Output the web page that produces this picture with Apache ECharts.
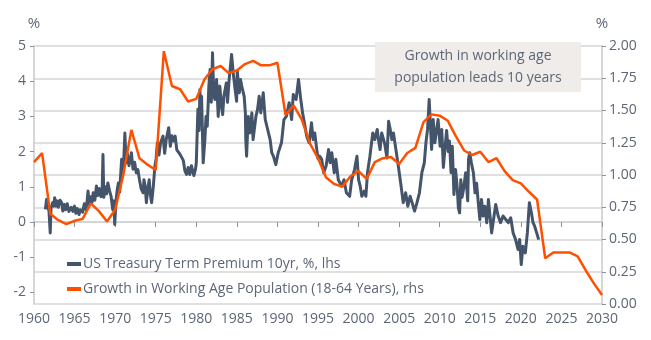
<!DOCTYPE html>
<html>
<head>
<meta charset="utf-8">
<script src="https://cdn.jsdelivr.net/npm/echarts@6/dist/echarts.min.js"></script>
<style>
html,body{margin:0;padding:0;background:#fff;}
#c{width:651px;height:340px;}
</style>
</head>
<body>
<div id="c"></div>
<script>
// Growth in working age population (annual, rhs, %), led 10 years
const popYears = [1960,1961,1962,1963,1964,1965,1966,1967,1968,1969,1970,1971,1972,1973,1974,1975,1976,1977,1978,1979,
  1980,1981,1982,1983,1984,1985,1986,1987,1988,1989,1990,1991,1992,1993,1994,1995,1996,1997,1998,1999,
  2000,2001,2002,2003,2004,2005,2006,2007,2008,2009,2010,2011,2012,2013,2014,2015,2016,2017,2018,2019,
  2020,2021,2022,2023,2024,2025,2026,2027,2028,2029,2030];
const popGrowth = [1.10,1.17,0.70,0.65,0.62,0.645,0.66,0.78,0.72,0.64,0.73,1.00,1.35,1.13,1.08,1.04,1.96,1.69,1.665,1.57,
  1.59,1.74,1.82,1.845,1.79,1.81,1.86,1.885,1.85,1.85,1.87,1.465,1.54,1.43,1.245,1.13,0.98,0.93,0.91,0.99,
  1.03,0.97,1.10,1.13,1.14,1.085,1.17,1.21,1.41,1.47,1.46,1.42,1.30,1.19,1.155,1.18,1.10,1.13,1.03,0.96,
  0.935,0.87,0.81,0.355,0.40,0.40,0.40,0.37,0.26,0.16,0.07];

// US Treasury term premium 10yr (lhs, %)
const tpDates = [1961.40,1961.55,1961.70,1961.85,1962.00,1962.10,1962.30,1962.45,1962.55,1962.70,1962.85,1963.00,1963.20,1963.40,1963.55,1963.75,1963.90,
  1964.10,1964.30,1964.45,1964.60,1964.80,1965.00,1965.15,1965.35,1965.55,1965.70,1965.85,1966.00,1966.20,1966.40,1966.55,1966.66,1966.80,
  1967.00,1967.15,1967.30,1967.50,1967.70,1967.85,1968.05,1968.25,1968.40,1968.50,1968.60,1968.80,1968.95,1969.10,1969.30,1969.50,1969.70,1969.85,1969.95,
  1970.10,1970.25,1970.40,1970.55,1970.80,1971.00,1971.20,1971.35,1971.50,1971.70,1971.85,1972.00,1972.20,1972.40,1972.60,1972.80,
  1973.00,1973.20,1973.45,1973.55,1973.70,1973.85,1974.00,1974.20,1974.35,1974.50,1974.70,1974.90,1975.05,1975.20,1975.40,1975.60,1975.90,
  1976.10,1976.30,1976.60,1976.80,1977.00,1977.20,1977.40,1977.60,1977.80,1978.00,1978.20,1978.40,1978.60,1978.80,1979.00,1979.20,1979.40,1979.55,1979.70,1979.90,
  1980.00,1980.20,1980.35,1980.44,1980.55,1980.65,1980.85,1981.06,1981.20,1981.35,1981.55,1981.70,1981.85,1982.00,1982.15,1982.30,1982.50,1982.70,1982.90,
  1983.10,1983.25,1983.40,1983.70,1983.85,1984.05,1984.35,1984.55,1984.76,1984.97,1985.05,1985.30,1985.45,1985.60,1985.90,
  1986.05,1986.10,1986.20,1986.40,1986.60,1986.85,1987.00,1987.35,1987.55,1987.75,1987.95,1988.25,1988.50,1988.70,1989.10,1989.30,1989.50,1989.80,
  1990.10,1990.50,1990.80,1991.10,1991.45,1991.75,1991.95,1992.30,1992.60,1992.85,1993.10,1993.40,1993.60,1993.90,1994.20,1994.40,1994.60,1994.80,
  1995.00,1995.20,1995.45,1995.70,1996.00,1996.30,1996.50,1996.70,1997.00,1997.20,1997.50,1997.90,1998.20,1998.50,1998.90,1999.15,1999.50,1999.80,
  2000.00,2000.20,2000.40,2000.70,2000.90,2001.10,2001.40,2001.75,2002.00,2002.30,2002.45,2002.65,2002.85,2003.20,2003.50,2003.70,2003.90,
  2004.10,2004.30,2004.60,2004.90,2005.24,2005.50,2005.80,2006.07,2006.35,2006.60,2006.90,2007.20,2007.50,2007.80,2008.10,2008.30,2008.50,2008.70,2008.80,
  2009.00,2009.20,2009.40,2009.80,2010.05,2010.25,2010.45,2010.65,2010.85,2011.05,2011.20,2011.40,2011.55,2011.75,2011.95,2012.15,2012.30,2012.45,2012.60,2012.75,2012.95,
  2013.20,2013.45,2013.55,2013.70,2013.90,2014.15,2014.35,2014.55,2014.75,2014.95,2015.15,2015.35,2015.55,2015.80,2016.00,2016.20,2016.40,2016.65,2016.90,
  2017.20,2017.50,2017.80,2018.15,2018.45,2018.75,2019.05,2019.35,2019.65,2019.85,2020.05,2020.25,2020.55,2020.80,2021.05,2021.30,2021.50,2021.70,2021.95,2022.20];
const tpValues = [0.36,0.64,0.45,0.30,-0.31,0.40,0.55,0.45,0.69,0.45,0.60,0.42,0.62,0.55,0.31,0.50,0.35,
  0.52,0.30,0.26,0.42,0.30,0.45,0.25,0.38,0.21,0.35,0.40,0.28,0.52,0.35,0.60,0.88,0.50,
  0.72,0.55,0.83,0.62,1.02,0.75,0.95,0.72,0.90,1.92,0.70,1.00,0.80,1.11,0.90,0.73,0.35,0.60,-0.07,
  0.60,0.90,1.11,0.85,1.78,1.40,2.53,1.68,1.95,1.60,1.75,1.97,1.50,1.70,1.40,1.49,
  1.20,0.95,0.83,1.20,1.02,0.55,0.90,1.20,0.75,0.55,1.00,1.59,1.80,2.25,1.90,2.25,2.44,
  1.95,2.35,2.68,2.15,2.45,2.30,2.44,2.05,2.10,1.92,1.95,1.75,1.45,1.35,1.55,1.35,1.60,1.45,1.32,1.50,
  1.68,3.20,2.60,3.76,2.90,3.57,1.68,2.34,3.00,2.72,3.86,4.33,3.40,4.81,3.60,3.48,4.05,3.00,3.86,
  3.29,3.05,3.57,3.95,3.40,4.05,4.76,4.24,3.81,3.43,4.29,3.67,4.05,3.86,3.57,
  3.10,2.34,1.87,3.00,2.53,3.10,2.34,3.00,3.20,3.57,3.10,3.67,2.91,2.72,2.34,1.97,1.87,1.63,
  1.97,2.25,2.91,3.00,3.39,2.91,3.62,3.48,4.05,3.53,3.10,2.72,2.44,2.25,2.82,2.34,2.53,2.15,
  1.80,1.87,1.78,1.40,1.59,2.06,1.68,1.97,1.40,1.78,1.20,1.02,1.20,0.83,0.73,1.20,1.49,1.87,
  1.20,1.02,0.73,0.88,0.73,1.40,1.87,2.53,2.34,2.63,2.34,2.06,2.53,2.25,1.82,2.86,2.63,
  2.34,2.53,2.06,1.59,1.02,0.55,0.83,0.45,0.73,0.55,0.31,0.55,0.83,1.40,1.68,2.25,2.63,3.48,3.53,
  2.06,2.91,2.25,2.91,2.15,2.63,1.55,2.10,2.60,2.00,2.30,1.40,2.15,0.78,1.49,1.00,0.40,0.26,1.20,0.70,0.95,
  1.40,0.60,1.78,1.97,1.68,1.40,0.83,1.10,0.55,0.07,0.64,0.17,0.45,-0.02,0.64,0.17,-0.31,0.10,0.50,
  0.17,-0.02,0.17,0.07,-0.02,0.12,-0.31,-0.50,-0.78,-0.50,-1.21,-0.69,-0.88,-0.31,0.55,0.26,-0.02,-0.12,-0.31,-0.50];

const leftTicks = [-2,-1,0,1,2,3,4,5];
const seriesNames = ['US Treasury Term Premium 10yr, %, lhs', 'Growth in Working Age Population (18-64 Years), rhs'];
const noteLines = ['Growth in working age', 'population leads 10 years'];

const txt = '#5d6677';
const font = 'Open Sans';

const chart = echarts.init(document.getElementById('c'), null, {renderer: 'canvas'});
chart.setOption({
  animation: false,
  backgroundColor: '#ffffff',
  textStyle: {fontFamily: font},
  grid: {left: 34, right: 49, top: 46, bottom: 36, containLabel: false},
  legend: {
    orient: 'vertical', left: 62, top: 252, itemGap: 11,
    icon: 'rect', itemWidth: 14, itemHeight: 4,
    textStyle: {color: txt, fontSize: 14, fontFamily: font, padding: [0,0,0,-3]},
    data: seriesNames
  },
  xAxis: {
    type: 'value', min: 1960, max: 2030, interval: 5,
    axisLine: {show: true, lineStyle: {color: '#c8c8c8', width: 1.5}},
    axisTick: {show: true, length: 5, lineStyle: {color: '#8a93a3'}},
    axisLabel: {color: txt, fontSize: 14, margin: 8, formatter: v => String(v)},
    splitLine: {show: false}
  },
  yAxis: [
    {
      type: 'value', min: -2.33, max: 5, position: 'left',
      name: '%', nameLocation: 'end', nameGap: 15,
      nameTextStyle: {color: txt, fontSize: 15, align: 'center'},
      axisLine: {show: true, lineStyle: {color: '#c8c8c8', width: 1.5}},
      axisTick: {show: true, length: 4, customValues: leftTicks, lineStyle: {color: '#8a93a3'}},
      axisLabel: {color: txt, fontSize: 14, margin: 8, customValues: leftTicks, formatter: v => String(v)},
      splitLine: {show: false}
    },
    {
      type: 'value', min: 0, max: 2, interval: 0.25, position: 'right',
      name: '%', nameLocation: 'end', nameGap: 15,
      nameTextStyle: {color: txt, fontSize: 15, align: 'center'},
      axisLine: {show: true, lineStyle: {color: '#c8c8c8', width: 1.5}},
      axisTick: {show: true, length: 4, lineStyle: {color: '#8a93a3'}},
      axisLabel: {color: txt, fontSize: 14, margin: 7, formatter: v => v.toFixed(2)},
      splitLine: {show: true, lineStyle: {color: '#d6d6d6', width: 1.5}}
    }
  ],
  series: [
    {
      name: seriesNames[0], type: 'line', yAxisIndex: 0, showSymbol: false, symbol: 'none',
      color: '#44546a',
      lineStyle: {color: '#44546a', width: 3, join: 'round'},
      data: tpDates.map((d, i) => [d, tpValues[i]]),
      z: 2
    },
    {
      name: seriesNames[1], type: 'line', yAxisIndex: 1, showSymbol: false, symbol: 'none',
      color: '#ff5000',
      lineStyle: {color: '#ff5000', width: 2.5},
      data: popYears.map((y, i) => [y, popGrowth[i]]),
      z: 3
    }
  ],
  graphic: [
    {type: 'rect', left: 375, top: 42, shape: {width: 206, height: 50}, style: {fill: '#efecea'}, z: 10},
    {type: 'text', x: 478, y: 67, z: 11,
      style: {text: noteLines.join('\n'), fill: txt, font: '14px "Open Sans"', align: 'center', verticalAlign: 'middle', lineHeight: 22}}
  ]
});
</script>
</body>
</html>
